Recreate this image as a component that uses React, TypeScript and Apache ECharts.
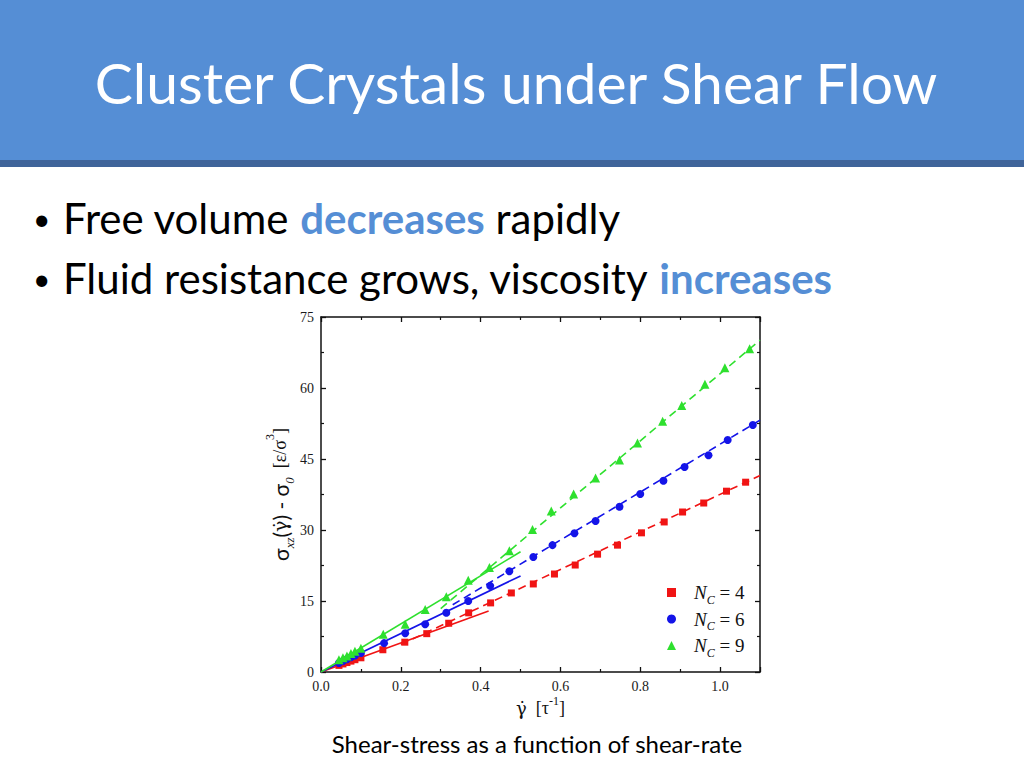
import React, { useEffect, useRef } from "react";
import * as echarts from "echarts";

const xTickLabels = ["0.0", "0.2", "0.4", "0.6", "0.8", "1.0"];
const yTickLabels = ["0", "15", "30", "45", "60", "75"];
const legendValues = ["4", "6", "9"];
const seriesNames = ["Nc4", "Nc6", "Nc9"];

const nc4X = [0.045, 0.055, 0.065, 0.075, 0.085, 0.1, 0.155, 0.21, 0.265, 0.32, 0.37, 0.425, 0.477, 0.532, 0.585, 0.637, 0.693, 0.743, 0.803, 0.86, 0.906, 0.959, 1.016, 1.064];
const nc4Y = [1.4, 1.7, 2.0, 2.3, 2.6, 3.0, 4.7, 6.3, 8.1, 10.3, 12.5, 14.6, 16.7, 18.6, 20.7, 22.6, 24.9, 26.8, 29.4, 31.7, 33.8, 35.7, 38.2, 40.1];

const nc6X = [0.045, 0.055, 0.065, 0.075, 0.085, 0.1, 0.158, 0.211, 0.261, 0.314, 0.369, 0.424, 0.472, 0.532, 0.58, 0.635, 0.688, 0.748, 0.8, 0.858, 0.911, 0.971, 1.019, 1.082];
const nc6Y = [1.9, 2.3, 2.7, 3.1, 3.5, 4.0, 6.1, 8.2, 10.1, 12.5, 15.0, 18.2, 21.3, 24.3, 26.8, 29.3, 31.9, 34.9, 37.6, 40.4, 43.3, 45.8, 49.0, 52.2];

const nc9X = [0.045, 0.055, 0.065, 0.075, 0.085, 0.1, 0.156, 0.211, 0.261, 0.314, 0.369, 0.422, 0.472, 0.53, 0.577, 0.633, 0.688, 0.748, 0.793, 0.856, 0.904, 0.962, 1.012, 1.074];
const nc9Y = [2.6, 3.0, 3.4, 3.9, 4.4, 5.0, 8.0, 10.1, 13.2, 15.9, 19.4, 22.1, 25.6, 30.1, 34.0, 37.6, 41.0, 44.8, 48.4, 53.0, 56.3, 60.8, 64.3, 68.3];

// linear fits: [x0, y0, x1, y1]
const nc4Solid = [0, 0, 0.42, 12.9];
const nc6Solid = [0, 0, 0.5, 20.3];
const nc9Solid = [0, 0, 0.5, 25.4];
const nc4Dashed = [0.2, 5.8, 1.1, 41.5];
const nc6Dashed = [0.33, 14.2, 1.1, 53.2];
const nc9Dashed = [0.3, 13.4, 1.1, 70.1];

const colors = ["#f01414", "#1414e8", "#2ee02e"];
const symbols = ["rect", "circle", "triangle"];
const symbolSizes = [7, 8, 9];

const zip = (xs: number[], ys: number[]) => xs.map((x, i) => [x, ys[i]]);
const seg = (s: number[]) => [[s[0], s[1]], [s[2], s[3]]];

const SERIF = "Liberation Serif";
const SANS = "Lato";

export default function App() {
  const ref = useRef<HTMLDivElement>(null);
  useEffect(() => {
    if (!ref.current) return;
    const chart = echarts.init(ref.current, null, { renderer: "svg" });
    const points = [zip(nc4X, nc4Y), zip(nc6X, nc6Y), zip(nc9X, nc9Y)];
    const solids = [nc4Solid, nc6Solid, nc9Solid];
    const dashes = [nc4Dashed, nc6Dashed, nc9Dashed];
    const series: any[] = [];
    for (let i = 0; i < 3; i++) {
      series.push({
        type: "line",
        data: seg(solids[i]),
        showSymbol: false,
        symbol: "none",
        lineStyle: { color: colors[i], width: 1.6 },
        silent: true,
        z: 2,
      });
      series.push({
        type: "line",
        data: seg(dashes[i]),
        showSymbol: false,
        symbol: "none",
        lineStyle: { color: colors[i], width: 1.6, type: [8, 5] },
        silent: true,
        z: 2,
      });
      series.push({
        name: seriesNames[i],
        type: "scatter",
        data: points[i],
        symbol: symbols[i],
        symbolSize: symbolSizes[i],
        itemStyle: { color: colors[i], opacity: 1 },
        z: 3,
      });
    }
    const axisLine = { show: true, onZero: false, lineStyle: { color: "#111", width: 1.5 } };
    const tick = { show: true, inside: true, length: 5, lineStyle: { color: "#111", width: 1.3 } };
    const minor = { show: true, splitNumber: 2, length: 3, lineStyle: { color: "#111", width: 1.2 } };
    const label = { color: "#1a1a1a", fontFamily: SERIF, fontSize: 14 };
    const xBase = { type: "value", min: 0, max: 1.1, interval: 0.2, splitLine: { show: false }, axisLine, axisTick: tick, minorTick: minor };
    const yBase = { type: "value", min: 0, max: 75, interval: 15, splitLine: { show: false }, axisLine, axisTick: tick, minorTick: minor };

    chart.setOption({
      animation: false,
      grid: { left: 321, top: 317, width: 439, height: 355 },
      xAxis: [
        {
          ...xBase,
          position: "bottom",
          axisLabel: { ...label, margin: 7, showMaxLabel: false, formatter: (v: number) => xTickLabels[Math.round(v / 0.2)] ?? "" },
          name: "{g|γ̇}{b|  [τ}{sup|-1}{b|]}",
          nameLocation: "middle",
          nameGap: 23,
          nameTextStyle: {
            rich: {
              g: { fontFamily: "DejaVu Serif", fontSize: 18, lineHeight: 26, color: "#111" },
              b: { fontFamily: SERIF, fontSize: 18, lineHeight: 26, color: "#111" },
              sup: { fontFamily: SERIF, fontSize: 12, lineHeight: 16, verticalAlign: "top", color: "#111" },
            },
          },
        },
        { ...xBase, position: "top", axisLabel: { show: false } },
      ],
      yAxis: [
        {
          ...yBase,
          position: "left",
          axisLabel: { ...label, margin: 7, formatter: (v: number) => yTickLabels[Math.round(v / 15)] ?? "" },
          name: "{s|σ}{sub|xz}{s|(}{g|γ̇}{s|) - σ}{sub|0}{b|  [ε/σ}{sup|3}{b|]}",
          nameLocation: "middle",
          nameGap: 25,
          nameRotate: 90,
          nameTextStyle: {
            rich: {
              s: { fontFamily: SANS, fontSize: 21, lineHeight: 32, color: "#111" },
              g: { fontFamily: "DejaVu Serif", fontSize: 19, lineHeight: 32, color: "#111" },
              b: { fontFamily: SERIF, fontSize: 18, lineHeight: 32, color: "#111" },
              sub: { fontFamily: SERIF, fontSize: 13, fontStyle: "italic", lineHeight: 10, verticalAlign: "bottom", color: "#111" },
              sup: { fontFamily: SERIF, fontSize: 12, lineHeight: 18, verticalAlign: "top", color: "#111" },
            },
          },
        },
        { ...yBase, position: "right", axisLabel: { show: false } },
      ],
      legend: {
        orient: "vertical",
        left: 662,
        top: 578,
        itemWidth: 9,
        itemHeight: 9,
        itemGap: 4,
        data: seriesNames.map((n, i) => ({ name: n, icon: symbols[i] })),
        formatter: (name: string) => `{n|N}{c|C}{t| = ${legendValues[seriesNames.indexOf(name)]}}`,
        textStyle: {
          rich: {
            n: { fontFamily: SERIF, fontStyle: "italic", fontSize: 19, lineHeight: 26, padding: [0, 0, 0, 13], color: "#111" },
            c: { fontFamily: SERIF, fontStyle: "italic", fontSize: 12, lineHeight: 6, verticalAlign: "bottom", color: "#111" },
            t: { fontFamily: SERIF, fontSize: 19, lineHeight: 26, color: "#111" },
          },
        },
      },
      graphic: [
        { type: "rect", shape: { x: 0, y: 0, width: 1024, height: 160 }, style: { fill: "#558ed5" }, silent: true },
        { type: "rect", shape: { x: 0, y: 160, width: 1024, height: 7 }, style: { fill: "#3f649a" }, silent: true },
        {
          type: "text",
          x: 516,
          y: 82,
          style: { text: "Cluster Crystals under Shear Flow", fill: "#ffffff", font: `57px ${SANS}`, align: "center", verticalAlign: "middle" },
        },
        { type: "text", x: 33, y: 218, style: { text: "•", fill: "#000", font: `30px ${SANS}`, verticalAlign: "middle" } },
        {
          type: "text",
          x: 63,
          y: 218,
          style: {
            text: "{t|Free volume }{h|decreases}{t| rapidly}",
            verticalAlign: "middle",
            rich: {
              t: { font: `42px ${SANS}`, fill: "#000" },
              h: { font: `bold 42px ${SANS}`, fill: "#558ed5" },
            },
          },
        },
        { type: "text", x: 33, y: 278, style: { text: "•", fill: "#000", font: `30px ${SANS}`, verticalAlign: "middle" } },
        {
          type: "text",
          x: 63,
          y: 278,
          style: {
            text: "{t|Fluid resistance grows, viscosity }{h|increases}",
            verticalAlign: "middle",
            rich: {
              t: { font: `42px ${SANS}`, fill: "#000" },
              h: { font: `bold 42px ${SANS}`, fill: "#558ed5" },
            },
          },
        },
        {
          type: "text",
          x: 537,
          y: 743,
          style: { text: "Shear-stress as a function of shear-rate", fill: "#000", font: `24px ${SANS}`, align: "center", verticalAlign: "middle" },
        },
      ],
      series,
    });
    return () => chart.dispose();
  }, []);
  return <div ref={ref} style={{ position: "fixed", left: 0, top: 0, width: 1024, height: 768, background: "#fff" }} />;
}
